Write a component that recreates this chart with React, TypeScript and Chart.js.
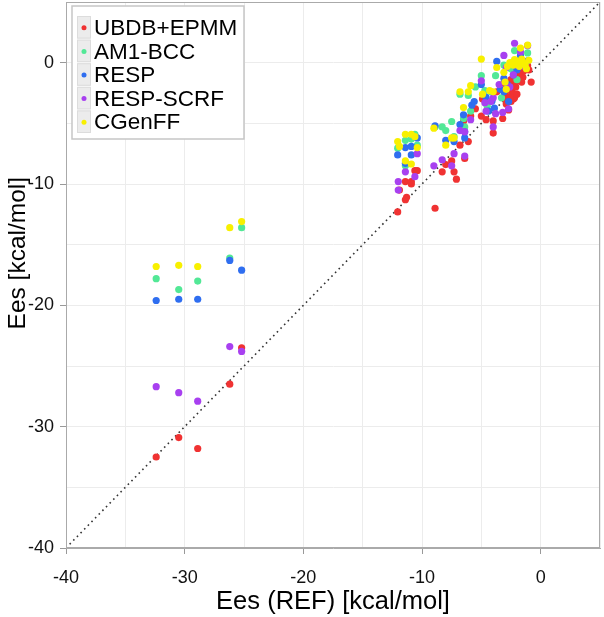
import { useEffect, useRef } from 'react';
import { Chart, registerables } from 'chart.js';

Chart.register(...registerables);

const seriesNames = ['UBDB+EPMM', 'AM1-BCC', 'RESP', 'RESP-SCRF', 'CGenFF'];
const seriesColors = ['#f03232', '#52e896', '#2f6ef0', '#a840f0', '#f8f000'];

const ubdbEpmm: number[][] = [
  [-32.4, -32.5], [-30.5, -30.9], [-28.9, -31.8], [-26.2, -26.5], [-25.2, -23.5],
  [-12.05, -12.3], [-11.4, -11.3], [-11.3, -11.1], [-11.9, -10.5], [-11.4, -9.8], [-10.9, -10.0],
  [-10.9, -9.8], [-10.6, -8.9], [-10.4, -8.9], [-8.9, -12.0], [-8.3, -9.0], [-8.0, -8.4],
  [-7.5, -8.1], [-7.3, -9.0], [-7.1, -9.6], [-6.8, -6.8], [-6.4, -7.9], [-6.1, -6.5],
  [-6.5, -4.8], [-5.9, -4.4], [-5.5, -3.8], [-4.9, -3.0], [-5.0, -4.4], [-4.6, -4.7],
  [-4.0, -5.8], [-4.0, -4.8], [-3.7, -2.4], [-3.2, -4.6], [-2.7, -3.9], [-2.2, -2.9],
  [-3.1, -1.7], [-2.6, -2.2], [-2.4, -2.4], [-2.1, -2.0], [-2.3, -1.7], [-1.9, -1.5],
  [-1.7, -1.2], [-1.5, -1.2], [-1.6, -1.6], [-2.2, -0.8], [-1.0, -0.6], [-0.8, -1.6],
  [-2.3, -3.0], [-3.0, -3.0], [-2.9, -2.3], [-1.1, -0.25], [-1.45, -0.7], [-1.8, -1.0],
  [-2.5, -1.4], [-2.0, -2.6], [-1.3, -0.4], [-2.8, -2.8], [-2.6, -2.9], [-2.9, -3.4], [-2.5, -3.2],
];

const am1Bcc: number[][] = [
  [-32.4, -17.8], [-30.5, -18.7], [-28.9, -18.0], [-26.2, -16.1], [-25.2, -13.6],
  [-12.05, -7.05], [-11.4, -6.4], [-10.6, -5.9], [-10.4, -6.8], [-11.4, -8.5], [-8.3, -5.3],
  [-8.0, -5.6], [-7.5, -4.85], [-7.3, -6.1], [-8.9, -5.3], [-6.1, -2.7], [-6.8, -2.6],
  [-5.0, -1.07], [-4.2, -2.4], [-3.8, -1.07], [-4.7, -2.3], [-1.1, 0.8], [-3.3, -2.9],
  [-5.9, -4.0], [-6.5, -4.6], [-10.9, -6.3], [-2.2, 1.0], [-1.7, 0.3], [-2.5, -0.5],
  [-3.1, -0.2], [-1.3, 0.0], [-5.5, -2.0], [-6.4, -5.3], [-2.0, -1.4], [-4.5, -3.6],
];

const resp: number[][] = [
  [-32.4, -19.6], [-30.5, -19.5], [-28.9, -19.5], [-26.2, -16.3], [-25.2, -17.1],
  [-12.05, -7.6], [-11.4, -7.0], [-10.9, -6.9], [-10.9, -7.6], [-10.4, -6.2], [-8.9, -5.2],
  [-8.0, -6.4], [-7.3, -6.5], [-6.4, -5.7], [-6.4, -6.2], [-6.8, -5.1], [-6.5, -4.3],
  [-5.8, -3.5], [-5.6, -3.2], [-5.0, -1.8], [-4.6, -2.85], [-3.7, 0.1], [-4.1, -3.15],
  [-3.9, -3.75], [-3.1, -1.3], [-2.3, -1.0], [-1.7, 0.6], [-2.3, 0.0], [-1.1, 0.15],
  [-3.1, -2.4], [-2.7, -3.2], [-11.4, -8.3], [-2.0, -0.6], [-1.5, -0.1], [-2.8, -1.8],
  [-3.4, -2.2], [-4.4, -4.0],
];

const respScrf: number[][] = [
  [-32.4, -26.7], [-30.5, -27.2], [-28.9, -27.9], [-26.2, -23.4], [-25.2, -23.8],
  [-12.0, -9.8], [-12.0, -10.5], [-11.4, -9.0], [-10.6, -9.4], [-10.4, -7.5], [-9.0, -8.5],
  [-8.3, -8.0], [-7.5, -8.5], [-7.3, -7.5], [-6.4, -7.7], [-6.4, -5.7], [-5.9, -4.7],
  [-4.7, -3.3], [-4.6, -4.0], [-4.2, -3.2], [-4.0, -5.3], [-3.8, -4.2], [-3.2, -4.1],
  [-2.7, -3.8], [-5.0, -1.5], [-3.1, 0.6], [-2.2, 1.6], [-1.7, 0.9], [-1.1, 1.4],
  [-2.6, -2.0], [-2.3, -1.0], [-6.8, -5.6], [-4.0, -2.9], [-2.9, -0.4], [-1.4, -0.3],
  [-3.5, -1.8], [-2.0, -0.2],
];

const cgenff: number[][] = [
  [-32.4, -16.8], [-30.5, -16.7], [-28.9, -16.8], [-26.2, -13.6], [-25.2, -13.1],
  [-12.05, -6.5], [-11.4, -5.9], [-10.9, -5.9], [-10.4, -7.0], [-11.4, -8.1], [-10.9, -8.35],
  [-9.0, -5.4], [-8.0, -6.8], [-7.5, -6.2], [-7.3, -6.2], [-6.8, -2.4], [-6.5, -3.7],
  [-6.1, -2.4], [-5.9, -1.9], [-5.0, 0.3], [-4.9, -2.6], [-4.3, -2.3], [-4.0, -2.4],
  [-3.7, -0.4], [-3.1, -0.8], [-3.0, -1.6], [-1.7, 1.2], [-1.1, 1.45], [-2.6, 0.0],
  [-2.3, -0.2], [-2.0, 0.1], [-1.8, -0.3], [-1.5, 0.0], [-1.3, -0.2], [-1.0, 0.2],
  [-2.2, 0.25], [-1.6, 0.3], [-2.9, -2.2], [-11.9, -6.9], [-10.6, -6.1], [-2.8, -0.3], [-1.2, -0.5],
];

const seriesData = [ubdbEpmm, am1Bcc, resp, respScrf, cgenff];
const axisMin = -40;
const axisMax = 5;
const diagonal = [[-40, -40], [5, 5]];
const xTitle = 'Ees (REF) [kcal/mol]';
const yTitle = 'Ees [kcal/mol]';

const FONT = '"Liberation Sans", Arial, Helvetica, sans-serif';

const frameLegend = {
  id: 'frameLegend',
  afterDraw(chart: any) {
    const { ctx, chartArea } = chart;
    ctx.save();
    ctx.strokeStyle = '#aaaaaa';
    ctx.lineWidth = 1;
    ctx.strokeRect(chartArea.left + 0.5, chartArea.top + 0.5, chartArea.right - chartArea.left - 1, chartArea.bottom - chartArea.top - 1);

    // y axis title (drawn slightly above the plot-area centre, as in the reference)
    ctx.save();
    ctx.translate(18, chartArea.top + (chartArea.bottom - chartArea.top) * 0.46);
    ctx.rotate(-Math.PI / 2);
    ctx.font = `24.5px ${FONT}`;
    ctx.fillStyle = '#000';
    ctx.textAlign = 'center';
    ctx.textBaseline = 'middle';
    ctx.fillText(yTitle, 0, 0);
    ctx.restore();

    const x0 = chartArea.left + 6;
    const y0 = chartArea.top + 4;
    const w = 172;
    const rowH = 23.6;
    const h = 133;
    ctx.fillStyle = 'rgba(255,255,255,0.97)';
    ctx.fillRect(x0, y0, w, h);
    ctx.strokeStyle = '#c6c6c6';
    ctx.lineWidth = 1.5;
    ctx.strokeRect(x0, y0, w, h);
    const keyX = x0 + 5;
    const keyW = 14;
    const firstY = y0 + 10;
    ctx.font = `22.5px ${FONT}`;
    ctx.textBaseline = 'middle';
    ctx.textAlign = 'left';
    seriesNames.forEach((name, i) => {
      const ky = firstY + i * rowH;
      ctx.fillStyle = '#ececec';
      ctx.fillRect(keyX, ky, keyW, rowH - 1);
      ctx.strokeStyle = '#dcdcdc';
      ctx.lineWidth = 1;
      ctx.strokeRect(keyX + 0.5, ky + 0.5, keyW - 1, rowH - 2);
      ctx.fillStyle = seriesColors[i];
      ctx.beginPath();
      ctx.arc(keyX + keyW / 2, ky + rowH / 2, 2.5, 0, Math.PI * 2);
      ctx.fill();
      ctx.fillStyle = '#000';
      ctx.fillText(name, keyX + keyW + 3, ky + rowH / 2 + 1);
    });
    ctx.restore();
  },
};

export default function App() {
  const ref = useRef<HTMLCanvasElement>(null);
  useEffect(() => {
    const tickColor = (c: any) => (c.tick && c.tick.value % 10 === 0 && c.tick.value !== axisMax ? '#999' : 'rgba(0,0,0,0)');
    const label = (v: any) => (Number(v) % 10 === 0 && Number(v) !== axisMax ? String(v) : '');
    const chart = new Chart(ref.current as HTMLCanvasElement, {
      type: 'scatter',
      data: {
        datasets: [
          ...seriesData.map((d, i) => ({
            label: seriesNames[i],
            data: d.map(([x, y]) => ({ x, y })),
            backgroundColor: seriesColors[i],
            borderWidth: 0,
            pointRadius: 3.6,
            order: 5 - i,
          })),
          {
            type: 'line' as const,
            label: 'y=x',
            data: diagonal.map(([x, y]) => ({ x, y })),
            borderColor: '#333',
            borderWidth: 1.6,
            borderDash: [1.6, 3.6],
            pointRadius: 0,
            showLine: true,
            fill: false,
            order: 10,
          },
        ] as any,
      },
      options: {
        responsive: false,
        animation: false,
        layout: { padding: { top: 0, right: 1, left: 0, bottom: 0 } },
        plugins: { legend: { display: false }, tooltip: { enabled: false } },
        scales: {
          x: {
            type: 'linear',
            min: axisMin,
            max: axisMax,
            ticks: { stepSize: 5, autoSkip: false, maxRotation: 0, callback: label, font: { family: FONT, size: 18 }, color: '#111', padding: 13 },
            grid: { color: '#ececec', tickColor, tickLength: 6 },
            border: { color: '#aaa' },
            title: { display: true, text: xTitle, font: { family: FONT, size: 25.5 }, color: '#000', padding: { top: 2, bottom: 0 } },
            afterFit: (s: any) => { s.height = 69; s.paddingLeft = 0; s.paddingRight = 0; },
          },
          y: {
            type: 'linear',
            min: axisMin,
            max: axisMax,
            ticks: { stepSize: 5, autoSkip: false, callback: label, font: { family: FONT, size: 18 }, color: '#111', padding: 6 },
            grid: { color: '#ececec', tickColor, tickLength: 6 },
            border: { color: '#aaa' },
            title: { display: false },
            afterFit: (s: any) => { s.width = 66; s.paddingTop = 0; s.paddingBottom = 0; },
          },
        },
      } as any,
      plugins: [frameLegend],
    });
    return () => chart.destroy();
  }, []);
  return (
    <div style={{ position: 'fixed', left: 0, top: -2, width: 604, height: 619, background: '#fff' }}>
      <canvas ref={ref} width={604} height={619} style={{ display: 'block' }} />
    </div>
  );
}
